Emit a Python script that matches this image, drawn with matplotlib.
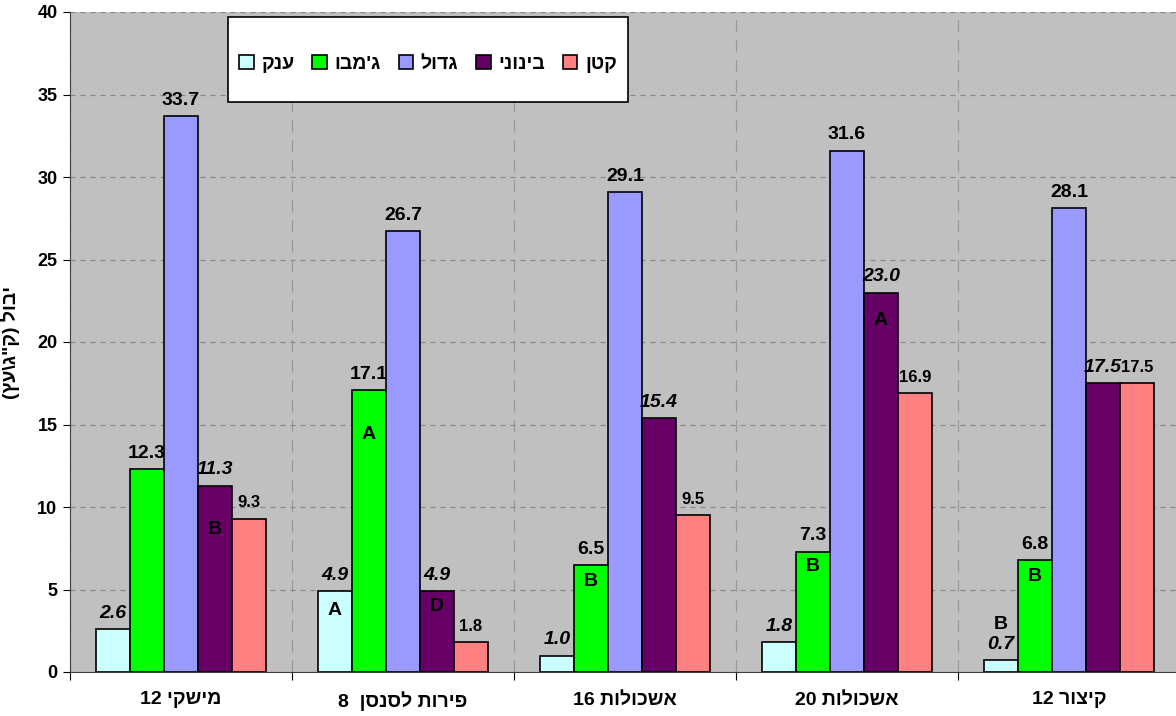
import matplotlib
matplotlib.use("Agg")
import matplotlib.pyplot as plt
from matplotlib.patches import Rectangle
import numpy as np
import re

plt.rcParams['font.family'] = ['Liberation Sans', 'DejaVu Sans']

groups = ["מישקי 12", "פירות לסנסן  8", "אשכולות 16", "אשכולות 20", "קיצור 12"]
series = ["ענק", "ג'מבו", "גדול", "בינוני", "קטן"]
colors = ["#CCFFFF", "#00FF00", "#9999FF", "#660066", "#FF8080"]

anak = [2.6, 4.9, 1.0, 1.8, 0.7]
jumbo = [12.3, 17.1, 6.5, 7.3, 6.8]
gadol = [33.7, 26.7, 29.1, 31.6, 28.1]
beinoni = [11.3, 4.9, 15.4, 23.0, 17.5]
katan = [9.3, 1.8, 9.5, 16.9, 17.5]
values = [anak, jumbo, gadol, beinoni, katan]

# significance letters: (group, series, letter)
letters = [(0, 3, "B"), (1, 0, "A"), (1, 1, "A"), (1, 3, "D"), (2, 1, "B"),
           (3, 1, "B"), (3, 3, "A"), (4, 0, "B"), (4, 1, "B")]
letter_offsets = [-32, -14, -32, -11, -12, -11, -20, 26, -12]

ylabel = 'יבול (ק"ג\\עץ)'


def vis(s):
    # crude RTL -> visual order: reverse, keep digit runs, mirror parentheses
    r = s[::-1]
    r = re.sub(r'\d+', lambda m: m.group(0)[::-1], r)
    return r.translate(str.maketrans("()", ")("))


fig = plt.figure(figsize=(11.76, 7.16), dpi=100)
ax = fig.add_axes([70 / 1176, 1 - 672 / 716, 1110 / 1176, 660 / 716])
ax.set_facecolor("#C0C0C0")

x = np.arange(len(groups))
bw = 0.153
label_style = [
    dict(fontweight="bold", fontstyle="italic", fontsize=14),
    dict(fontweight="bold", fontsize=14),
    dict(fontweight="bold", fontsize=14),
    dict(fontweight="bold", fontstyle="italic", fontsize=14),
    dict(fontweight="bold", fontsize=12),
]

handles = []
for i, vals in enumerate(values):
    xs = x + (i - 2) * bw
    b = ax.bar(xs, vals, width=bw, color=colors[i], edgecolor="black",
               linewidth=1.2, zorder=3, label=vis(series[i]))
    handles.append(b)
    for xx, v in zip(xs, vals):
        ax.annotate(f"{v:.1f}", (xx, v), xytext=(0, 8), textcoords="offset points",
                    ha="center", va="baseline", zorder=5, **label_style[i])

for (g, s, L), off in zip(letters, letter_offsets):
    ax.annotate(L, (x[g] + (s - 2) * bw, values[s][g]), xytext=(0, off),
                textcoords="offset points", ha="center", va="center",
                fontsize=14, fontweight="bold", zorder=5)

ax.set_ylim(0, 40)
ax.set_xlim(-0.5, len(groups) - 0.5)
ax.set_yticks(np.arange(0, 41, 5))
ax.tick_params(axis="y", labelsize=13, length=5, direction="out", pad=4)
for t in ax.get_yticklabels():
    t.set_fontweight("bold")

ax.set_xticks(np.arange(-0.5, len(groups), 1.0))
ax.set_xticklabels([])
ax.tick_params(axis="x", which="major", length=6, direction="out")
ax.set_xticks(x, minor=True)
ax.set_xticklabels([vis(g) for g in groups], minor=True, fontsize=14, fontweight="bold")
ax.tick_params(axis="x", which="minor", length=0, pad=14)

ax.grid(axis="y", color="#8a8a8a", linestyle=(0, (4, 4)), linewidth=0.9, zorder=1)
ax.grid(axis="x", which="major", color="#9a9a9a", linestyle=(0, (10, 6)), linewidth=0.9, zorder=1)
ax.set_axisbelow(True)

for side in ["top", "right"]:
    ax.spines[side].set_visible(False)
ax.spines["left"].set_color("#404040")
ax.spines["bottom"].set_color("#404040")

ax.set_ylabel(vis(ylabel), fontsize=14, fontweight="bold")
ax.yaxis.set_label_coords(-50 / 1110, 0.5)

# legend box
x0, x1 = (228 - 70) / 1110, (628 - 70) / 1110
y0, y1 = (672 - 102) / 660, (672 - 17) / 660
ax.add_patch(Rectangle((x0, y0), x1 - x0, y1 - y0, transform=ax.transAxes,
                       facecolor="white", edgecolor="black", linewidth=1.2, zorder=8))
leg = ax.legend(handles=handles, ncol=5, loc="center",
                bbox_to_anchor=((x0 + x1) / 2, (y0 + y1) / 2 - 0.007),
                frameon=False, prop=dict(size=14, weight="bold"),
                handlelength=0.75, handleheight=0.75, handletextpad=0.4,
                columnspacing=0.9)
leg.set_zorder(9)

fig.savefig("out.png", dpi=100)
